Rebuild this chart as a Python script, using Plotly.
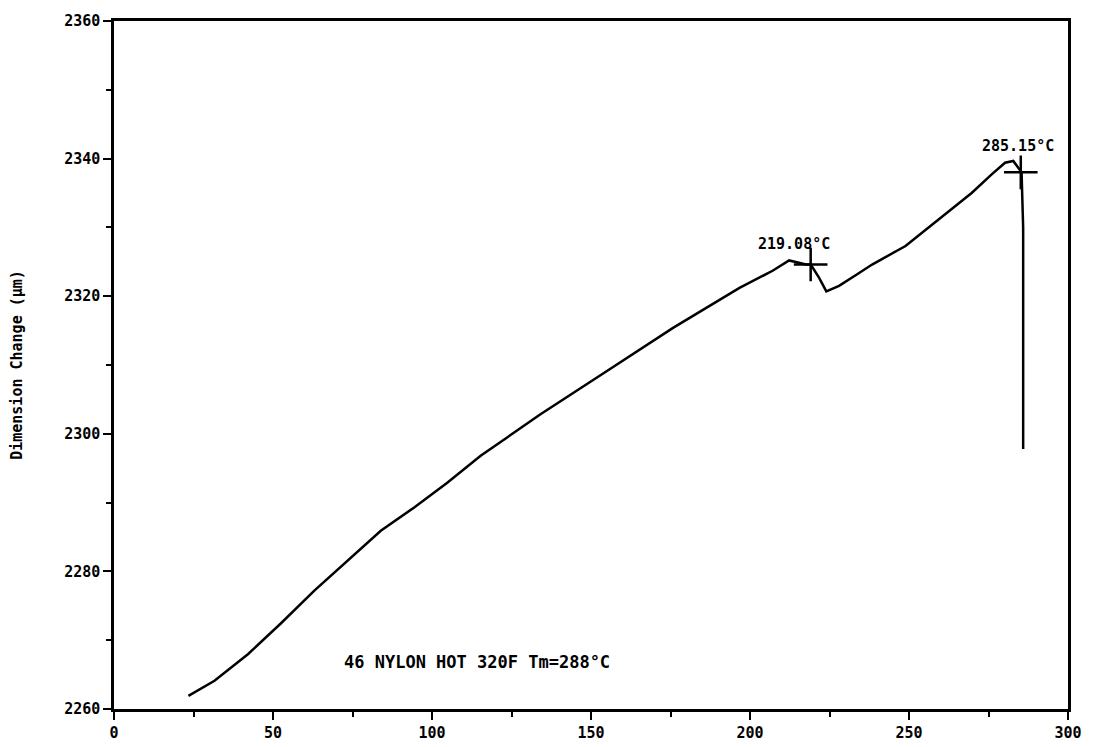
import plotly.graph_objects as go

# Temperature (°C) and dimension change (µm)
temperature = [23.4, 31.6, 42.2, 52.6, 63.0, 73.5, 83.9, 94.4, 104.8, 115.3,
               134.0, 154.9, 175.8, 196.7, 207.1, 212.3, 217.6, 219.1, 221.7,
               224.0, 228.0, 233.7, 238.4, 248.9, 259.3, 269.7, 276.0, 280.2,
               282.8, 284.9, 285.4, 285.9, 285.9]
dimension = [2261.9, 2264.1, 2268.0, 2272.5, 2277.2, 2281.5, 2285.9, 2289.3,
             2292.9, 2296.8, 2302.8, 2309.1, 2315.4, 2321.2, 2323.7, 2325.2,
             2324.6, 2324.6, 2322.7, 2320.7, 2321.5, 2323.2, 2324.6, 2327.3,
             2331.2, 2335.0, 2337.7, 2339.4, 2339.65, 2338.2, 2338.0, 2330.0,
             2297.8]

# Marked transition points
mark_temp = [219.08, 285.15]
mark_dim = [2324.6, 2338.0]
mark_labels = ["219.08°C", "285.15°C"]

x_ticks = [0, 50, 100, 150, 200, 250, 300]
y_ticks = [2260, 2280, 2300, 2320, 2340, 2360]

sample_note = "46 NYLON HOT 320F Tm=288°C"
y_title = "Dimension Change (µm)"

FONT = "DejaVu Sans Mono"

fig = go.Figure()
fig.add_trace(go.Scatter(
    x=temperature, y=dimension, mode="lines",
    line=dict(color="black", width=2.5), showlegend=False,
))
fig.add_trace(go.Scatter(
    x=mark_temp, y=mark_dim, mode="markers",
    marker=dict(symbol="cross-thin", size=24, line=dict(color="black", width=2.5)),
    showlegend=False,
))

annotations = []
label_pos = [(213.9, 2327.6), (284.4, 2341.8)]
for (ax, ay), txt in zip(label_pos, mark_labels):
    annotations.append(dict(x=ax, y=ay, text=txt, showarrow=False,
                            font=dict(family=FONT, size=15, color="black", weight="bold")))
annotations.append(dict(x=114, y=2266.8, text=sample_note, showarrow=False,
                        font=dict(family=FONT, size=17, color="black", weight="bold")))

fig.update_layout(
    width=1095, height=747,
    margin=dict(l=106, r=35, t=13, b=46),
    paper_bgcolor="white", plot_bgcolor="white",
    annotations=annotations,
    font=dict(family=FONT, color="black"),
)
fig.update_xaxes(
    range=[0, 300], tickvals=x_ticks, ticktext=[str(v) for v in x_ticks],
    automargin=False,
    showgrid=False, zeroline=False, showline=True, linecolor="black", linewidth=2.5,
    mirror=True, ticks="outside", ticklen=8, tickwidth=2, tickcolor="black",
    minor=dict(dtick=25, ticks="outside", ticklen=5, tickwidth=1.5, tickcolor="black"),
    tickfont=dict(family=FONT, size=15, color="black", weight="bold"),
)
fig.update_yaxes(
    range=[2260, 2360], tickvals=y_ticks, ticktext=[str(v) for v in y_ticks],
    automargin=False,
    showgrid=False, zeroline=False, showline=True, linecolor="black", linewidth=2.5,
    mirror=True, ticks="outside", ticklen=8, tickwidth=2, tickcolor="black",
    minor=dict(dtick=10, ticks="outside", ticklen=5, tickwidth=1.5, tickcolor="black"),
    tickfont=dict(family=FONT, size=15, color="black", weight="bold"),
    title=dict(text=y_title, standoff=40,
               font=dict(family=FONT, size=15, color="black", weight="bold")),
)

fig.write_html("out.html")
